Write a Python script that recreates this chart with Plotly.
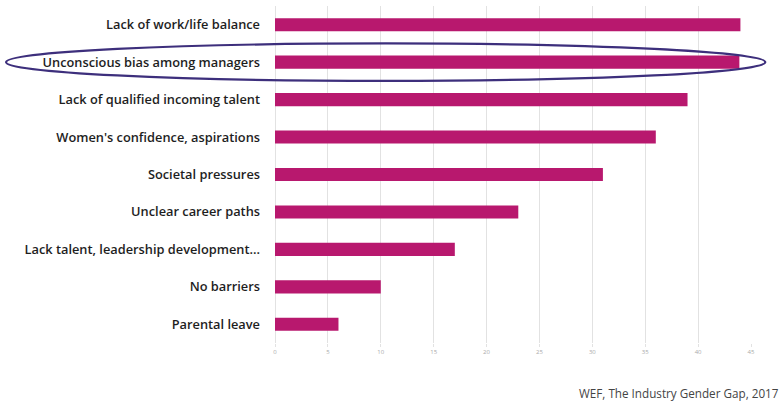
import plotly.graph_objects as go

categories = [
    "Lack of work/life balance",
    "Unconscious bias among managers",
    "Lack of qualified incoming talent",
    "Women's confidence, aspirations",
    "Societal pressures",
    "Unclear career paths",
    "Lack talent, leadership development...",
    "No barriers",
    "Parental leave",
]
values = [44, 43.9, 39, 36, 31, 23, 17, 10, 6]
tick_vals = [0, 5, 10, 15, 20, 25, 30, 35, 40, 45]
highlight = "Unconscious bias among managers"
source_text = "WEF, The Industry Gender Gap, 2017"

fig = go.Figure(
    go.Bar(
        x=values,
        y=categories,
        orientation="h",
        marker=dict(color="#b8186e", line=dict(width=0)),
        width=0.35,
    )
)

hi = categories.index(highlight)
fig.add_shape(
    type="circle",
    xref="paper", yref="y",
    x0=-0.565, x1=1.03,
    y0=hi - 0.5, y1=hi + 0.5,
    line=dict(color="#3d2f7c", width=2.2),
    fillcolor="rgba(0,0,0,0)",
    layer="above",
)

fig.add_annotation(
    text=source_text,
    xref="paper", yref="paper",
    x=1.063, y=-0.12,
    xanchor="right", yanchor="top",
    showarrow=False,
    font=dict(family="Open Sans", size=11.7, color="#444444"),
)

fig.update_layout(
    width=782, height=410,
    margin=dict(l=275, r=31, t=6, b=67),
    paper_bgcolor="white",
    plot_bgcolor="white",
    showlegend=False,
    xaxis=dict(
        range=[0, 45],
        tickvals=tick_vals,
        showgrid=True,
        gridcolor="#e2e2e2",
        gridwidth=1,
        zeroline=True,
        zerolinecolor="#e2e2e2",
        zerolinewidth=1,
        ticks="outside",
        ticklen=3,
        tickcolor="#e2e2e2",
        tickfont=dict(family="Open Sans", size=6, color="#aaaaaa"),
        fixedrange=True,
    ),
    yaxis=dict(
        autorange="reversed",
        showgrid=False,
        ticks="",
        ticklabelstandoff=14,
        tickfont=dict(family="Open Sans", size=12.8, color="#1e1e1e", weight=600),
        fixedrange=True,
    ),
)

fig.write_html("out.html")
